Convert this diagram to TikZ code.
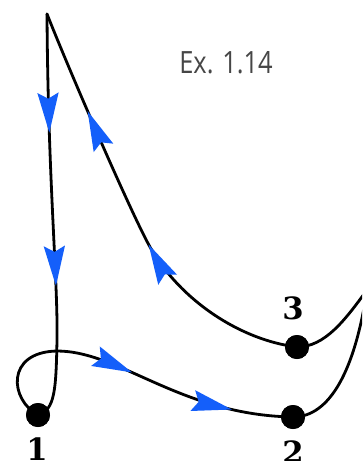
\documentclass[tikz,border=0pt]{standalone}
\usepackage{fontspec}
\newfontfamily\exfont{Open Sans}
\newfontfamily\numfont{DejaVu Serif}
\usetikzlibrary{arrows.meta,decorations.markings}
\definecolor{arrblue}{RGB}{20,95,250}
\definecolor{txtgray}{RGB}{70,70,70}
\begin{document}
\begin{tikzpicture}[x=0.75pt,y=-0.75pt,
  curve/.style={line width=2.1pt,black,line cap=round,line join=round},
  dot/.style={circle,fill=black,inner sep=0pt,minimum size=18pt},
  numlabel/.style={font=\numfont\bfseries\fontsize{23}{23}\selectfont,inner sep=0pt},
  marks/.style 2 args={postaction={decorate},decoration={markings,
     mark=at position #1 with {\arrow{Stealth[length=30pt,width=16pt,inset=4.5pt,arrblue,line width=0pt]}},
     mark=at position #2 with {\arrow{Stealth[length=30pt,width=16pt,inset=4.5pt,arrblue,line width=0pt]}}}}
]
\useasboundingbox (0,0) rectangle (362,461);
\clip (0,0) rectangle (362,461);
\fill[white] (0,0) rectangle (362,461);
\coordinate (apex) at (47,14);
\coordinate (cusp) at (367,290);
\node[dot] (n1) at (38,415) {};
\node[dot] (n2) at (293,417) {};
\node[dot] (n3) at (297,347) {};
% apex -> 1
\draw[curve,marks={89pt}{204pt}] (apex) .. controls (48,180) and (58,280) .. (57,340) .. controls (56,390) and (55,410) .. (n1.center);
% 1 -> 2
\draw[curve,marks={132pt}{212pt}] (n1.center) .. controls (10,400) and (5,352) .. (57,351) .. controls (120,351) and (180,415) .. (n2.center);
% 2 -> cusp
\draw[curve] (n2.center) .. controls (330,417) and (355,370) .. (cusp);
% cusp -> 3
\draw[curve] (cusp) .. controls (345,320) and (325,347) .. (n3.center);
% 3 -> apex
\draw[curve,marks={140pt}{250pt}] (n3.center) .. controls (240,340) and (180,300) .. (150,247) .. controls (132,215) and (72,77) .. (apex);
\node[dot] at (n1) {};
\node[dot] at (n2) {};
\node[dot] at (n3) {};
\node[numlabel] (l1) at (37,449) {1};
\node[numlabel] (l2) at (293,452) {2};
\node[numlabel] (l3) at (293,308) {3};
\node[anchor=base west,inner sep=0pt,text=txtgray,font=\exfont\fontsize{23}{23}\selectfont] (ex) at (179,73.3) {\scalebox{0.83}[1]{Ex. 1.14}};
\end{tikzpicture}
\end{document}
